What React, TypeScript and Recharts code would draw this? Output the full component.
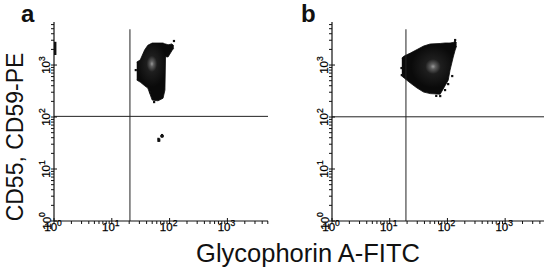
import React from 'react';
import { ComposedChart, Area, Scatter, XAxis, YAxis, ReferenceLine } from 'recharts';

// ---- axis / tick definitions ----
const majorTicks = [1, 10, 100, 1000];
const minorSteps = [2, 3, 4, 5, 6, 7, 8, 9];
const xMaxA = 5040;
const xMaxB = 4710;
const yMax = 6730;

// ---- gates (quadrant markers) ----
const gateA = { x: 20.6, y: 103, top: 4875 };
const gateB = { x: 19.1, y: 101, top: 4875 };

// ---- density outlines: x (Glycophorin A) with low/high CD55,CD59 ----
const blobA = [
  { x: 27, lo: 514, hi: 1140 },
  { x: 31, lo: 470, hi: 1250 },
  { x: 37, lo: 400, hi: 1950 },
  { x: 42, lo: 360, hi: 2400 },
  { x: 50, lo: 212, hi: 2650 },
  { x: 63, lo: 205, hi: 2650 },
  { x: 77, lo: 230, hi: 2650 },
  { x: 83, lo: 330, hi: 2550 },
  { x: 85, lo: 1450, hi: 2550 },
  { x: 94, lo: 1430, hi: 2450 },
  { x: 110, lo: 1900, hi: 2550 },
  { x: 118, lo: 2100, hi: 2350 },
];

const blobB = [
  { x: 16.2, lo: 614, hi: 1365 },
  { x: 17.8, lo: 562, hi: 1490 },
  { x: 22.8, lo: 450, hi: 1700 },
  { x: 29.8, lo: 361, hi: 1990 },
  { x: 38.7, lo: 302, hi: 2320 },
  { x: 50.3, lo: 282, hi: 2540 },
  { x: 74.8, lo: 275, hi: 2600 },
  { x: 91, lo: 400, hi: 2655 },
  { x: 103, lo: 510, hi: 2655 },
  { x: 111, lo: 800, hi: 2655 },
  { x: 126, lo: 1426, hi: 2720 },
  { x: 136, lo: 1945, hi: 2900 },
  { x: 144, lo: 2320, hi: 2655 },
];

// ---- scattered events ----
const specksA = [
  { x: 119, y: 2900 },
  { x: 26, y: 800 },
  { x: 54, y: 194 },
  { x: 46, y: 302 },
];
const dotA = [
  { x: 64, y: 35 },
  { x: 66, y: 35 },
  { x: 64, y: 38 },
  { x: 66, y: 37 },
  { x: 74, y: 42 },
  { x: 74, y: 45 },
  { x: 72, y: 43 },
  { x: 76, y: 43 },
];
const specksB = [
  { x: 16, y: 875 },
  { x: 16.2, y: 640 },
  { x: 64, y: 255 },
  { x: 75, y: 253 },
  { x: 91, y: 330 },
  { x: 103, y: 430 },
  { x: 121, y: 614 },
  { x: 136, y: 3030 },
];
const axisPileA = [
  { x: 1.05, y: 1560 },
  { x: 1.05, y: 2800 },
];

const FONT = '"Liberation Sans", Arial, Helvetica, sans-serif';

function logTicks(max: number) {
  const t: number[] = [];
  for (const m of majorTicks) {
    t.push(m);
    for (const s of minorSteps) if (m * s <= max) t.push(m * s);
  }
  return t.filter((v) => v <= max);
}

const XTick = (props: any) => {
  const { x, y, payload } = props;
  const v = payload.value;
  const major = majorTicks.includes(v);
  const exp = Math.round(Math.log10(v));
  return (
    <g>
      <line x1={x} x2={x} y1={major ? y - 3 : y} y2={y + 3} stroke="#111" strokeWidth={1} />
      {major && (
        <text
          x={x - 1}
          y={y + 10}
          textAnchor="middle"
          fontSize={11.5}
          fontFamily={FONT}
          fill="#000"
          stroke="#000"
          strokeWidth={0.25}
        >
          10<tspan dy={-5.5} fontSize={8.5}>{exp}</tspan>
        </text>
      )}
    </g>
  );
};

const YTick = (props: any) => {
  const { x, y, payload } = props;
  const v = payload.value;
  const major = majorTicks.includes(v);
  const exp = Math.round(Math.log10(v));
  const tx = x - 3.5;
  return (
    <g>
      <line x1={x - 3} x2={major ? x + 3 : x} y1={y} y2={y} stroke="#111" strokeWidth={1} />
      {major && (
        <text
          x={tx}
          y={y}
          transform={`rotate(-90, ${tx}, ${y})`}
          textAnchor="middle"
          fontSize={11.5}
          fontFamily={FONT}
          fill="#000"
          stroke="#000"
          strokeWidth={0.25}
        >
          10<tspan dy={-5.5} fontSize={8.5}>{exp}</tspan>
        </text>
      )}
    </g>
  );
};

const Speck = (props: any) => {
  const { cx, cy } = props;
  return <rect x={cx - 1.1} y={cy - 1.1} width={2.2} height={2.2} fill="#111" />;
};

function Panel(props: {
  data: any[];
  xMax: number;
  yAxisWidth: number;
  rightMargin: number;
  gate: { x: number; y: number; top: number };
  gradId: string;
  gcx: string;
  gcy: string;
  specks: any[];
  dot?: any[];
  pile?: any[];
}) {
  const { data, xMax, yAxisWidth, rightMargin, gate, gradId, gcx, gcy, specks, dot, pile } = props;
  return (
    <ComposedChart width={275} height={268} data={data} margin={{ top: 22, right: rightMargin, bottom: 0, left: 0 }}>
      <defs>
        <radialGradient id={gradId} cx={gcx} cy={gcy} r="40%">
          <stop offset="0%" stopColor="#9a9a9a" />
          <stop offset="12%" stopColor="#5e5e5e" />
          <stop offset="35%" stopColor="#1e1e1e" />
          <stop offset="100%" stopColor="#0a0a0a" />
        </radialGradient>
      </defs>
      <XAxis
        dataKey="x"
        type="number"
        scale="log"
        domain={[1, xMax]}
        allowDataOverflow
        ticks={logTicks(xMax)}
        interval={0}
        tick={<XTick />}
        tickLine={false}
        tickSize={0}
        tickMargin={0}
        height={47}
        axisLine={{ stroke: '#111', strokeWidth: 1.2 }}
      />
      <YAxis
        dataKey="y"
        type="number"
        scale="log"
        domain={[1, yMax]}
        allowDataOverflow
        ticks={logTicks(yMax)}
        interval={0}
        tick={<YTick />}
        tickLine={false}
        tickSize={0}
        tickMargin={0}
        width={yAxisWidth}
        axisLine={{ stroke: '#111', strokeWidth: 1.2 }}
      />
      <Area
        type="linear"
        dataKey={(d: any) => [d.lo, d.hi]}
        fill={`url(#${gradId})`}
        fillOpacity={1}
        stroke="#0a0a0a"
        strokeWidth={0.8}
        dot={false}
        activeDot={false}
        isAnimationActive={false}
      />
      <ReferenceLine
        segment={[
          { x: gate.x, y: 1 },
          { x: gate.x, y: gate.top },
        ]}
        stroke="#222"
        strokeWidth={1}
      />
      <ReferenceLine y={gate.y} stroke="#222" strokeWidth={1} />
      {pile && (
        <ReferenceLine
          segment={[pile[0], pile[1]]}
          stroke="#111"
          strokeWidth={2.4}
        />
      )}
      <Scatter data={specks} shape={<Speck />} isAnimationActive={false} />
      {dot && <Scatter data={dot} shape={<Speck />} isAnimationActive={false} />}
    </ComposedChart>
  );
}

export default function App() {
  return (
    <div style={{ position: 'absolute', left: 0, top: 0, width: 550, height: 268, background: '#fff', overflow: 'hidden' }}>
      <div style={{ position: 'absolute', left: 0, top: 0 }}>
        <Panel
          data={blobA}
          xMax={xMaxA}
          yAxisWidth={54}
          rightMargin={7}
          gate={gateA}
          gradId="gradA"
          gcx="41%"
          gcy="36%"
          specks={specksA}
          dot={dotA}
          pile={axisPileA}
        />
      </div>
      <div style={{ position: 'absolute', left: 275, top: 0 }}>
        <Panel
          data={blobB}
          xMax={xMaxB}
          yAxisWidth={57}
          rightMargin={6}
          gate={gateB}
          gradId="gradB"
          gcx="57%"
          gcy="48%"
          specks={specksB}
        />
      </div>
      <svg
        width={550}
        height={268}
        style={{ position: 'absolute', left: 0, top: 0, pointerEvents: 'none' }}
      >
        <text x={21} y={22} fontSize={24} fontWeight="bold" fontFamily={FONT} fill="#111">a</text>
        <text x={301} y={22} fontSize={24} fontWeight="bold" fontFamily={FONT} fill="#111">b</text>
        <text
          x={22.5}
          y={137}
          transform="rotate(-90, 22.5, 137)"
          textAnchor="middle"
          fontSize={23}
          fontFamily={FONT}
          fill="#111"
        >
          CD55, CD59-PE
        </text>
        <text x={308} y={261.5} textAnchor="middle" fontSize={25.5} fontFamily={FONT} fill="#111">
          Glycophorin A-FITC
        </text>
      </svg>
    </div>
  );
}
